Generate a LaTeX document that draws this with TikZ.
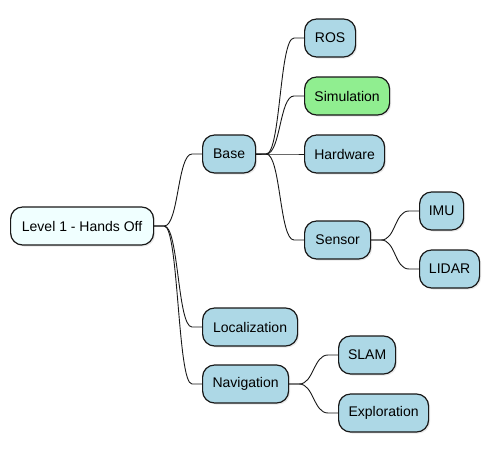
\documentclass[tikz,border=0pt]{standalone}
\usepackage{fontspec}
\setmainfont{Liberation Sans}
\usetikzlibrary{calc,shadows}
\definecolor{boxline}{HTML}{181818}
\definecolor{nodeblue}{HTML}{ADD8E6}
\definecolor{rootfill}{HTML}{F0FFFF}
\definecolor{simgreen}{HTML}{90EE90}
\tikzset{
  mmbox/.style={draw=boxline, line width=1.2pt, rounded corners=12pt, fill=nodeblue,
    minimum height=38pt, inner sep=0pt, anchor=west, font=\fontsize{14pt}{16pt}\selectfont,
    drop shadow={opacity=0.18, shadow xshift=1.5pt, shadow yshift=-1.5pt}},
  conn/.style={draw=boxline, line width=0.9pt},
}
\newcommand\mmlink[2]{\draw[conn] (#1.east) -- ($(#1.east)+(10pt,0)$) .. controls ($(#1.east)+(24.5pt,0)$) and ($(#2.west)+(-24.5pt,0)$) .. ($(#2.west)+(-10pt,0)$) -- (#2.west);}
\begin{document}
\begin{tikzpicture}
\useasboundingbox (0,0) rectangle (490pt,-453pt);
\node[mmbox, fill=rootfill, minimum width=143pt] (root) at (10pt,-226pt) {Level 1 - Hands Off};
\node[mmbox, minimum width=53pt] (base) at (202pt,-154pt) {Base};
\node[mmbox, minimum width=51pt] (ros) at (304pt,-38pt) {ROS};
\node[mmbox, fill=simgreen, minimum width=85pt] (sim) at (304pt,-96pt) {Simulation};
\node[mmbox, minimum width=80pt] (hw) at (304pt,-154pt) {Hardware};
\node[mmbox, minimum width=66pt] (sensor) at (304pt,-240pt) {Sensor};
\node[mmbox, minimum width=44pt] (imu) at (419pt,-211pt) {IMU};
\node[mmbox, minimum width=60pt] (lidar) at (419pt,-269pt) {LIDAR};
\node[mmbox, minimum width=95pt] (loc) at (202pt,-327pt) {Localization};
\node[mmbox, minimum width=86pt] (nav) at (202pt,-384pt) {Navigation};
\node[mmbox, minimum width=57pt] (slam) at (338pt,-355pt) {SLAM};
\node[mmbox, minimum width=90pt] (expl) at (338pt,-413pt) {Exploration};
\mmlink{root}{base}
\mmlink{root}{loc}
\mmlink{root}{nav}
\mmlink{base}{ros}
\mmlink{base}{sim}
\mmlink{base}{hw}
\mmlink{base}{sensor}
\mmlink{sensor}{imu}
\mmlink{sensor}{lidar}
\mmlink{nav}{slam}
\mmlink{nav}{expl}
\end{tikzpicture}
\end{document}
